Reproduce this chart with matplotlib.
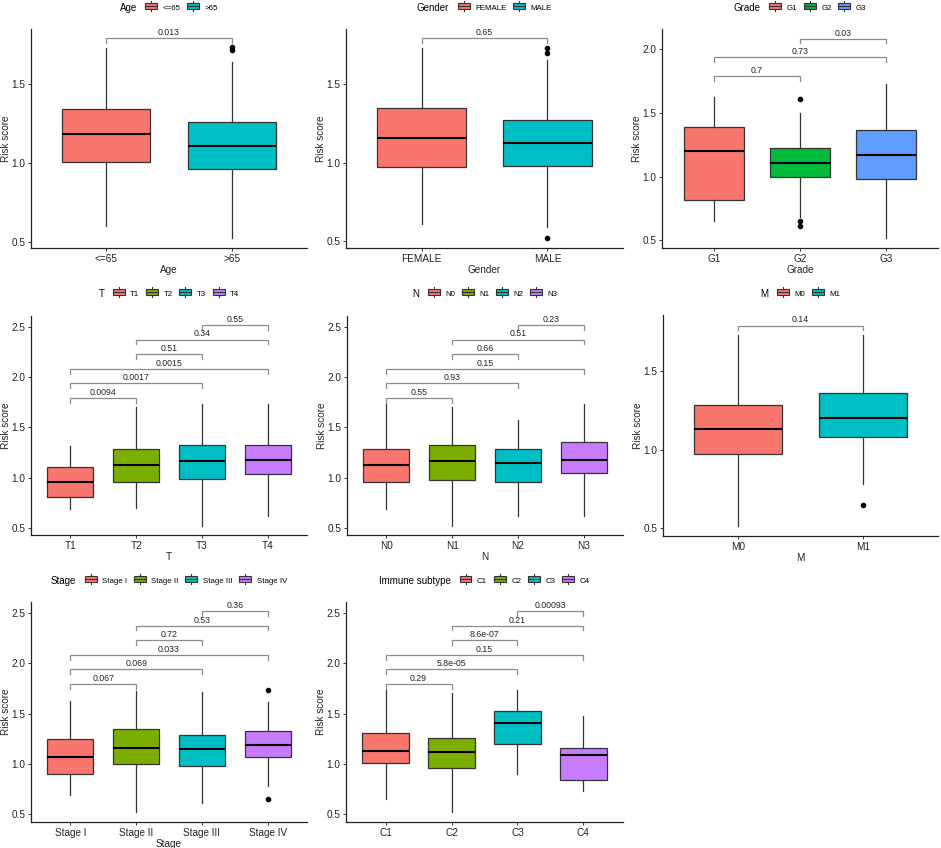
import matplotlib
matplotlib.use("Agg")
import matplotlib.pyplot as plt
from matplotlib.legend_handler import HandlerBase
from matplotlib.offsetbox import HPacker
from matplotlib.patches import Rectangle
from matplotlib.lines import Line2D

plt.rcParams['font.family'] = ['Liberation Sans', 'DejaVu Sans']

# Box stats: (whisker low, q1, median, q3, whisker high, outliers)
age_groups = ["<=65", ">65"]
age_stats = [(0.60, 1.006, 1.184, 1.344, 1.73, []),
             (0.523, 0.96, 1.108, 1.258, 1.64, [1.72, 1.735])]
age_p = [(0, 1, "0.013")]

gender_groups = ["FEMALE", "MALE"]
gender_stats = [(0.61, 0.97, 1.16, 1.345, 1.73, []),
                (0.59, 0.98, 1.125, 1.27, 1.65, [1.73, 1.70, 0.52])]
gender_p = [(0, 1, "0.65")]

grade_groups = ["G1", "G2", "G3"]
grade_stats = [(0.654, 0.82, 1.204, 1.387, 1.626, []),
               (0.68, 1.0, 1.11, 1.225, 1.50, [1.61, 0.65, 0.61]),
               (0.52, 0.98, 1.167, 1.37, 1.73, [])]
grade_p = [(0, 1, "0.7"), (0, 2, "0.73"), (1, 2, "0.03")]

t_groups = ["T1", "T2", "T3", "T4"]
t_stats = [(0.69, 0.803, 0.96, 1.107, 1.317, []),
           (0.693, 0.953, 1.12, 1.283, 1.70, []),
           (0.517, 0.987, 1.16, 1.323, 1.733, []),
           (0.617, 1.037, 1.17, 1.323, 1.733, [])]
t_p = [(0, 1, "0.0094"), (0, 2, "0.0017"), (0, 3, "0.0015"),
       (1, 2, "0.51"), (1, 3, "0.34"), (2, 3, "0.55")]

n_groups = ["N0", "N1", "N2", "N3"]
n_stats = [(0.69, 0.96, 1.12, 1.283, 1.733, []),
           (0.52, 0.977, 1.163, 1.32, 1.70, []),
           (0.617, 0.953, 1.147, 1.28, 1.577, []),
           (0.617, 1.05, 1.17, 1.353, 1.733, [])]
n_p = [(0, 1, "0.55"), (0, 2, "0.93"), (0, 3, "0.15"),
       (1, 2, "0.66"), (1, 3, "0.51"), (2, 3, "0.23")]

m_groups = ["M0", "M1"]
m_stats = [(0.515, 0.97, 1.132, 1.283, 1.734, []),
           (0.783, 1.083, 1.20, 1.36, 1.734, [0.649])]
m_p = [(0, 1, "0.14")]

stage_groups = ["Stage I", "Stage II", "Stage III", "Stage IV"]
stage_stats = [(0.687, 0.893, 1.07, 1.243, 1.62, []),
               (0.52, 1.0, 1.157, 1.347, 1.727, []),
               (0.61, 0.98, 1.147, 1.283, 1.717, []),
               (0.78, 1.07, 1.187, 1.33, 1.61, [1.73, 0.65])]
stage_p = [(0, 1, "0.067"), (0, 2, "0.069"), (0, 3, "0.033"),
           (1, 2, "0.72"), (1, 3, "0.53"), (2, 3, "0.36")]

immune_groups = ["C1", "C2", "C3", "C4"]
immune_stats = [(0.653, 1.003, 1.127, 1.307, 1.73, []),
                (0.523, 0.957, 1.113, 1.257, 1.70, []),
                (0.893, 1.197, 1.407, 1.52, 1.73, []),
                (0.727, 0.837, 1.083, 1.157, 1.48, [])]
immune_p = [(0, 1, "0.29"), (0, 2, "5.8e-05"), (0, 3, "0.15"),
            (1, 2, "8.6e-07"), (1, 3, "0.21"), (2, 3, "0.00093")]

pal2 = ["#F8766D", "#00BFC4"]
pal3 = ["#F8766D", "#00BA38", "#619CFF"]
pal4 = ["#F8766D", "#7CAE00", "#00BFC4", "#C77CFF"]

W, H = 941, 848
fig = plt.figure(figsize=(W / 100, H / 100), dpi=100)


class BoxKey(HandlerBase):
    # small ggplot-like boxplot glyph for the legend
    def create_artists(self, legend, orig_handle, x0, y0, width, height, fontsize, trans):
        fc = orig_handle.get_facecolor()
        rect = Rectangle((x0, y0), width, height, facecolor=fc, edgecolor="#333333", lw=0.8, transform=trans)
        med = Line2D([x0, x0 + width], [y0 + height / 2] * 2, color="#333333", lw=0.8, transform=trans)
        xm = x0 + width / 2
        w1 = Line2D([xm, xm], [y0 + height, y0 + 1.25 * height], color="#333333", lw=0.8, transform=trans)
        w2 = Line2D([xm, xm], [y0, y0 - 0.25 * height], color="#333333", lw=0.8, transform=trans)
        return [rect, med, w1, w2]


def panel(rect_px, name, groups, stats, pvals, colors, ylim, yticks, legend_y, show_xlabel=True):
    l, r, t, b = rect_px
    ax = fig.add_axes([l / W, 1 - b / H, (r - l) / W, (b - t) / H])
    bstats = []
    for g, (lo, q1, med, q3, hi, fl) in zip(groups, stats):
        bstats.append(dict(label=g, whislo=lo, q1=q1, med=med, q3=q3, whishi=hi, fliers=fl))
    pos = list(range(1, len(groups) + 1))
    bp = ax.bxp(bstats, positions=pos, widths=0.7, patch_artist=True, showcaps=False,
                boxprops=dict(edgecolor="#333333", lw=0.9),
                whiskerprops=dict(color="#333333", lw=0.9),
                medianprops=dict(color="black", lw=1.5),
                flierprops=dict(marker="o", markerfacecolor="black", markeredgecolor="black",
                                markersize=3.0))
    for patch, c in zip(bp["boxes"], colors):
        patch.set_facecolor(c)
        patch.set_zorder(2)

    # significance brackets
    span = ylim[1] - ylim[0]
    for k, (i, j, lab) in enumerate(pvals):
        y = 1.793 + 0.1455 * k
        tip = 0.022 * span
        ax.plot([pos[i], pos[i], pos[j], pos[j]], [y - tip, y, y, y - tip],
                color="#8c8c8c", lw=0.9, solid_joinstyle="miter")
        ax.text((pos[i] + pos[j]) / 2, y + 0.005 * span, lab, ha="center", va="bottom",
                fontsize=6.3, color="#222222")

    ax.set_xlim(0.4, len(groups) + 0.6)
    ax.set_ylim(*ylim)
    ax.set_xticks(pos)
    ax.set_xticklabels(groups)
    ax.set_yticks(yticks)
    ax.set_yticklabels(["%.1f" % v for v in yticks])
    ax.tick_params(labelsize=7.2, length=2.5, width=0.7, colors="#333333", labelcolor="#222222", pad=1.5)
    for s in ["top", "right"]:
        ax.spines[s].set_visible(False)
    for s in ["left", "bottom"]:
        ax.spines[s].set_linewidth(0.9)
        ax.spines[s].set_color("#222222")
    ax.set_ylabel("Risk score", fontsize=7.2, color="#222222")
    ax.yaxis.set_label_coords(-20 / (r - l), 0.5)
    if show_xlabel:
        ax.set_xlabel(name, fontsize=7.2, labelpad=1, color="#222222")

    handles = [Rectangle((0, 0), 1, 1, facecolor=c) for c in colors]
    leg = fig.legend(handles, groups, ncol=len(groups), loc="center",
                     bbox_to_anchor=((l + r) / 2 / W, 1 - legend_y / H),
                     bbox_transform=fig.transFigure, frameon=False, fontsize=5.7,
                     title=name, title_fontsize=7, handler_map={Rectangle: BoxKey()},
                     handlelength=1.5, handleheight=0.9, handletextpad=0.7,
                     columnspacing=0.85, borderpad=0)
    # put the legend title on the left of the keys, as ggplot does
    box = leg._legend_box
    new = HPacker(pad=0, sep=6, align="center", children=box.get_children())
    new.set_figure(fig)
    new.axes = None
    leg._legend_box = new
    new.set_offset(leg._findoffset)
    return ax


y05_15 = [0.5, 1.0, 1.5]
y05_20 = [0.5, 1.0, 1.5, 2.0]
y05_25 = [0.5, 1.0, 1.5, 2.0, 2.5]

panel((31, 307, 29, 248), "Age", age_groups, age_stats, age_p, pal2, (0.462, 1.85), y05_15, 8)
panel((346, 623, 29, 248), "Gender", gender_groups, gender_stats, gender_p, pal2, (0.458, 1.85), y05_15, 8)
panel((662, 938, 29, 248), "Grade", grade_groups, grade_stats, grade_p, pal3, (0.44, 2.16), y05_20, 8)
panel((31, 307, 316, 535), "T", t_groups, t_stats, t_p, pal4, (0.427, 2.61), y05_25, 294)
panel((347, 623, 316, 535), "N", n_groups, n_stats, n_p, pal4, (0.427, 2.61), y05_25, 294)
panel((663, 938, 315, 536), "M", m_groups, m_stats, m_p, pal2, (0.45, 1.86), y05_15, 294)
panel((31, 307, 602, 822), "Stage", stage_groups, stage_stats, stage_p, pal4, (0.42, 2.61), y05_25, 581)
panel((346, 623, 602, 822), "Immune subtype", immune_groups, immune_stats, immune_p, pal4,
      (0.42, 2.61), y05_25, 581, show_xlabel=False)

fig.savefig("out.png", dpi=100, facecolor="white")
